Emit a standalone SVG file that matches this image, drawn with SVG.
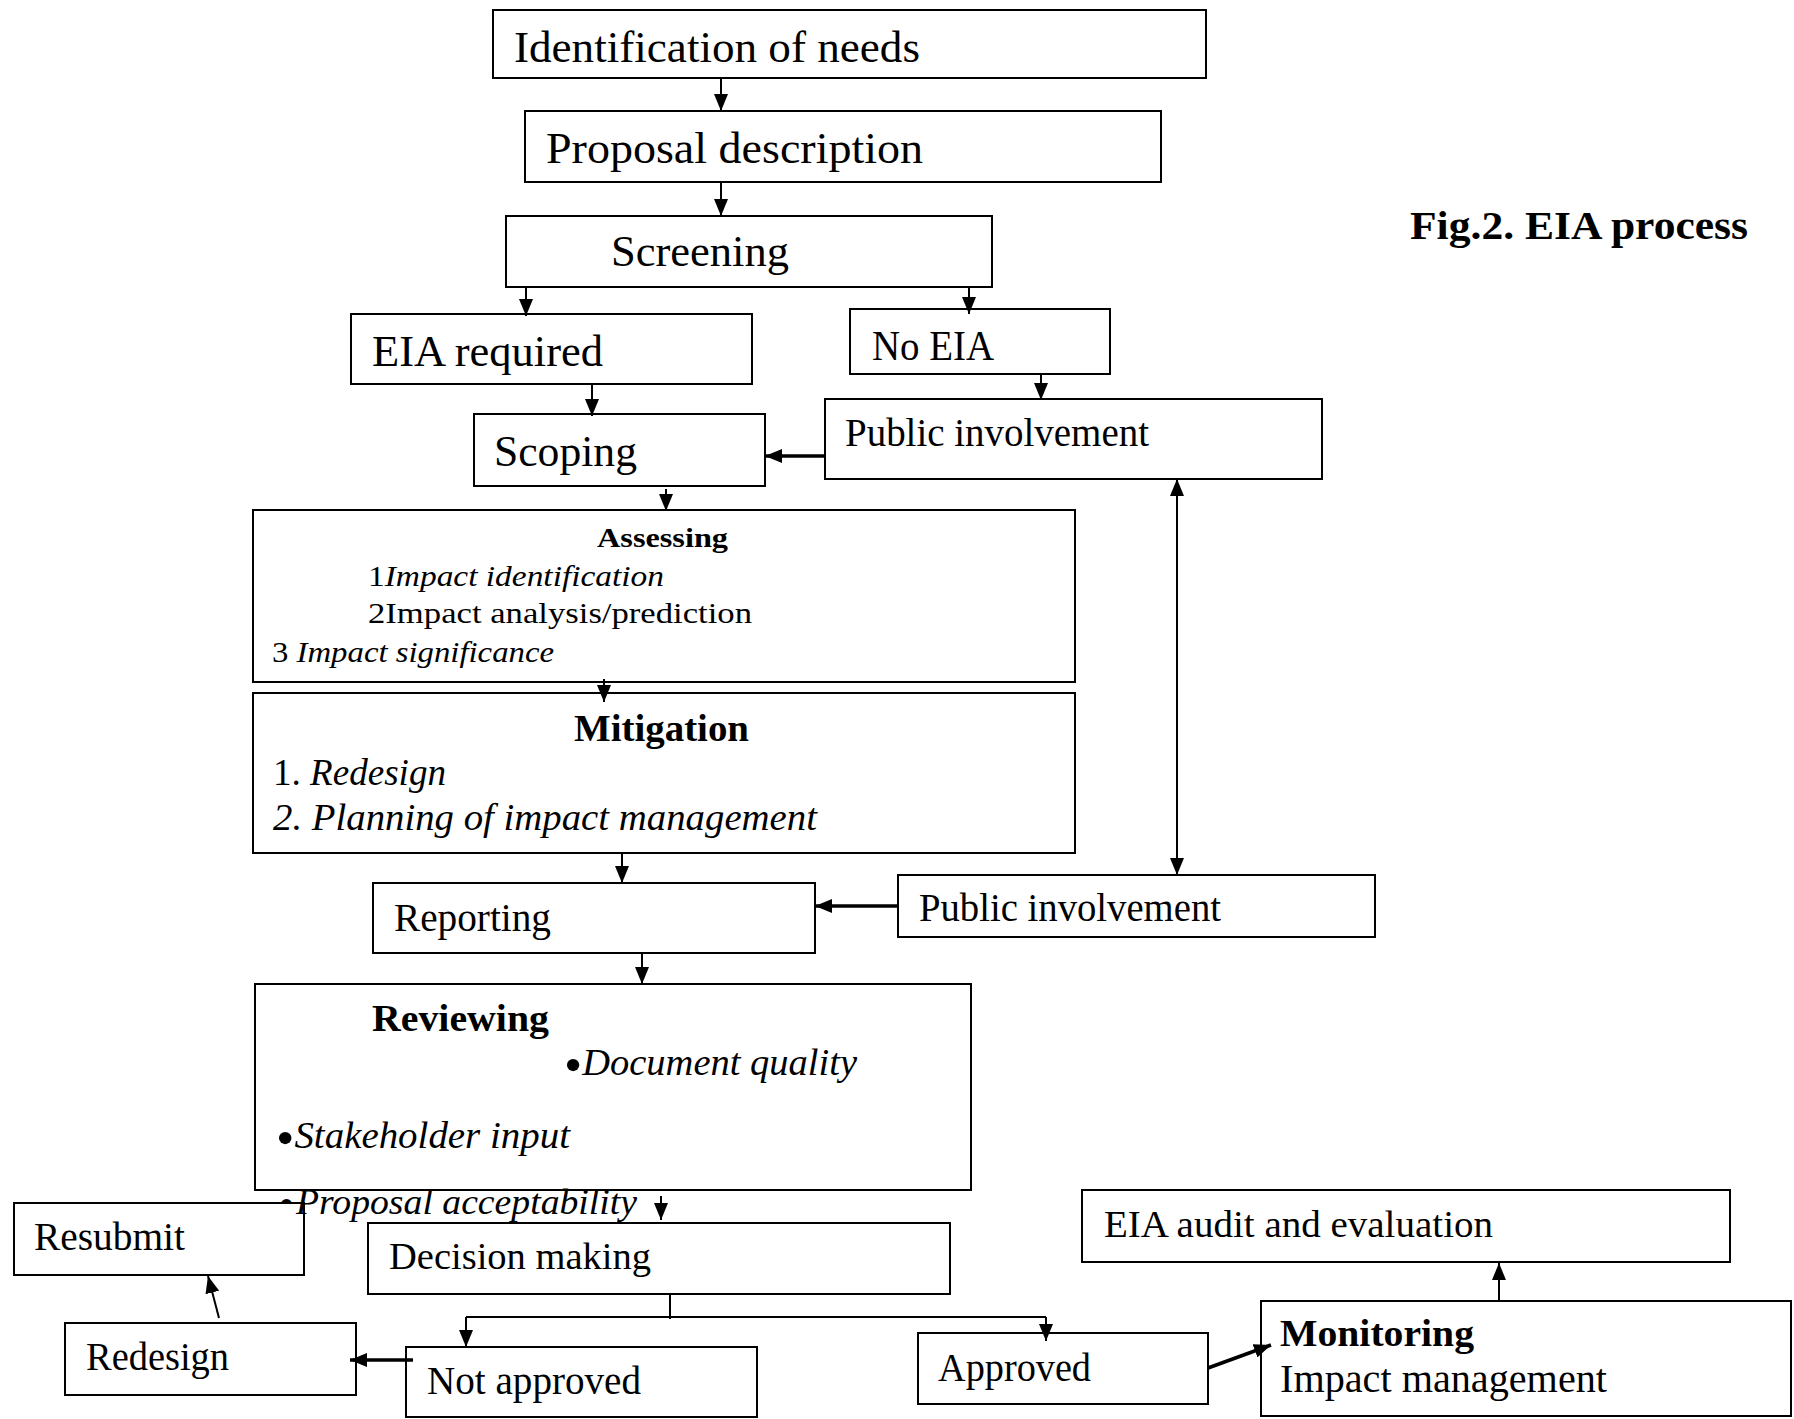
<svg xmlns="http://www.w3.org/2000/svg" width="1794" height="1419" viewBox="0 0 1794 1419">
<style>
.b{fill:#fff;stroke:#000;stroke-width:2}
text{font-family:"Liberation Serif","Times New Roman",serif;fill:#000}
.bd{font-weight:bold}
.it{font-style:italic}
.bu{font-size:50px}
.c{fill:none;stroke:#000;stroke-width:2}
.ct{fill:none;stroke:#000;stroke-width:3.5}
.a{marker-end:url(#ah)}
</style>
<defs>
<marker id="ah" markerUnits="userSpaceOnUse" markerWidth="18" markerHeight="14" refX="17" refY="7" orient="auto"><path d="M0,0 L17,7 L0,14 z" fill="#000"/></marker>
<marker id="as" markerUnits="userSpaceOnUse" markerWidth="18" markerHeight="14" refX="17" refY="7" orient="auto-start-reverse"><path d="M0,0 L17,7 L0,14 z" fill="#000"/></marker>
<clipPath id="bulclip"><rect x="270" y="1180" width="30" height="23"/></clipPath>
</defs>
<rect width="1794" height="1419" fill="#fff"/>

<g id="n-identification">
<rect class="b" x="493" y="10" width="713" height="68"/>
<text x="514" y="62" font-size="45" textLength="406" lengthAdjust="spacingAndGlyphs">Identification of needs</text>
</g>
<g id="n-proposal">
<rect class="b" x="525" y="111" width="636" height="71"/>
<text x="546" y="163" font-size="45" textLength="377" lengthAdjust="spacingAndGlyphs">Proposal description</text>
</g>
<g id="n-screening">
<rect class="b" x="506" y="216" width="486" height="71"/>
<text x="611" y="266" font-size="45" textLength="178" lengthAdjust="spacingAndGlyphs">Screening</text>
</g>
<g id="n-eia-required">
<rect class="b" x="351" y="314" width="401" height="70"/>
<text x="372" y="366" font-size="44" textLength="231" lengthAdjust="spacingAndGlyphs">EIA required</text>
</g>
<g id="n-no-eia">
<rect class="b" x="850" y="309" width="260" height="65"/>
<text x="872" y="360" font-size="42" textLength="122" lengthAdjust="spacingAndGlyphs">No EIA</text>
</g>
<g id="n-scoping">
<rect class="b" x="474" y="414" width="291" height="72"/>
<text x="494" y="466" font-size="44" textLength="143" lengthAdjust="spacingAndGlyphs">Scoping</text>
</g>
<g id="n-public1">
<rect class="b" x="825" y="399" width="497" height="80"/>
<text x="845" y="446" font-size="39" textLength="304" lengthAdjust="spacingAndGlyphs">Public involvement</text>
</g>
<g id="n-assessing">
<rect class="b" x="253" y="510" width="822" height="172"/>
<text class="bd" x="597" y="547" font-size="27" textLength="131" lengthAdjust="spacingAndGlyphs">Assessing</text>
<text x="368" y="586" font-size="30" textLength="296" lengthAdjust="spacingAndGlyphs">1<tspan class="it">Impact identification</tspan></text>
<text x="368" y="623" font-size="30" textLength="384" lengthAdjust="spacingAndGlyphs">2Impact analysis/prediction</text>
<text x="272" y="662" font-size="30" textLength="282" lengthAdjust="spacingAndGlyphs">3 <tspan class="it">Impact significance</tspan></text>
</g>
<g id="n-mitigation">
<rect class="b" x="253" y="693" width="822" height="160"/>
<text class="bd" x="574" y="741" font-size="38" textLength="175" lengthAdjust="spacingAndGlyphs">Mitigation</text>
<text x="273" y="785" font-size="38" textLength="173" lengthAdjust="spacingAndGlyphs">1. <tspan class="it">Redesign</tspan></text>
<text class="it" x="273" y="830" font-size="38" textLength="544" lengthAdjust="spacingAndGlyphs">2. Planning of impact management</text>
</g>
<g id="n-reporting">
<rect class="b" x="373" y="883" width="442" height="70"/>
<text x="394" y="931" font-size="39" textLength="157" lengthAdjust="spacingAndGlyphs">Reporting</text>
</g>
<g id="n-public2">
<rect class="b" x="898" y="875" width="477" height="62"/>
<text x="919" y="921" font-size="39" textLength="302" lengthAdjust="spacingAndGlyphs">Public involvement</text>
</g>
<g id="n-resubmit">
<rect class="b" x="14" y="1203" width="290" height="72"/>
<text x="34" y="1250" font-size="39" textLength="151" lengthAdjust="spacingAndGlyphs">Resubmit</text>
</g>
<g id="n-reviewing">
<rect class="b" x="255" y="984" width="716" height="206"/>
<text class="bd" x="372" y="1031" font-size="37" textLength="177" lengthAdjust="spacingAndGlyphs">Reviewing</text>
<text x="564" y="1075" font-size="37" textLength="293" lengthAdjust="spacingAndGlyphs"><tspan class="bu" dy="7">•</tspan><tspan class="it" dy="-7">Document quality</tspan></text>
<text x="276" y="1148" font-size="37" textLength="294" lengthAdjust="spacingAndGlyphs"><tspan class="bu" dy="7">•</tspan><tspan class="it" dy="-7">Stakeholder input</tspan></text>
<text x="278" y="1221" font-size="48" clip-path="url(#bulclip)">•</text>
<text class="it" x="296" y="1214" font-size="35" textLength="341" lengthAdjust="spacingAndGlyphs">Proposal acceptability</text>
</g>
<g id="n-decision">
<rect class="b" x="368" y="1223" width="582" height="71"/>
<text x="389" y="1269" font-size="38" textLength="262" lengthAdjust="spacingAndGlyphs">Decision making</text>
</g>
<g id="n-redesign">
<rect class="b" x="65" y="1323" width="291" height="72"/>
<text x="86" y="1370" font-size="39" textLength="143" lengthAdjust="spacingAndGlyphs">Redesign</text>
</g>
<g id="n-not-approved">
<rect class="b" x="406" y="1347" width="351" height="70"/>
<text x="427" y="1394" font-size="39" textLength="214" lengthAdjust="spacingAndGlyphs">Not approved</text>
</g>
<g id="n-approved">
<rect class="b" x="918" y="1333" width="290" height="71"/>
<text x="938" y="1381" font-size="39" textLength="153" lengthAdjust="spacingAndGlyphs">Approved</text>
</g>
<g id="n-monitoring">
<rect class="b" x="1261" y="1301" width="530" height="115"/>
<text class="bd" x="1280" y="1346" font-size="37" textLength="194" lengthAdjust="spacingAndGlyphs">Monitoring</text>
<text x="1280" y="1392" font-size="39" textLength="327" lengthAdjust="spacingAndGlyphs">Impact management</text>
</g>
<g id="n-audit">
<rect class="b" x="1082" y="1190" width="648" height="72"/>
<text x="1104" y="1237" font-size="38" textLength="389" lengthAdjust="spacingAndGlyphs">EIA audit and evaluation</text>
</g>
<g id="title">
<text class="bd" x="1410" y="239" font-size="41" textLength="338" lengthAdjust="spacingAndGlyphs">Fig.2. EIA process</text>
</g>

<g id="connectors">
<path class="c a" d="M721,78 V111"/>
<path class="c a" d="M721,182 V216"/>
<path class="c a" d="M526,287 V316"/>
<path class="c a" d="M969,287 V314"/>
<path class="c a" d="M592,384 V416"/>
<path class="c a" d="M1041,374 V400"/>
<path class="ct a" d="M825,456 H765"/>
<path class="c a" d="M666,489 V511"/>
<path class="c a" d="M604,679 V702"/>
<path class="c a" style="marker-start:url(#as)" d="M1177,479 V875"/>
<path class="c a" d="M622,853 V883"/>
<path class="ct a" d="M898,906 H815"/>
<path class="c a" d="M642,953 V984"/>
<path class="c a" d="M661,1196 V1220"/>
<path class="c" d="M670,1294 V1319"/>
<path class="c" d="M466,1317 H1046"/>
<path class="c a" d="M466,1317 V1347"/>
<path class="c a" d="M1046,1317 V1341"/>
<path class="ct a" d="M413,1360 H350"/>
<path class="c a" d="M219,1318 L208,1276"/>
<path class="ct a" d="M1208,1368 L1271,1345"/>
<path class="c a" d="M1499,1301 V1263"/>
</g>
</svg>
